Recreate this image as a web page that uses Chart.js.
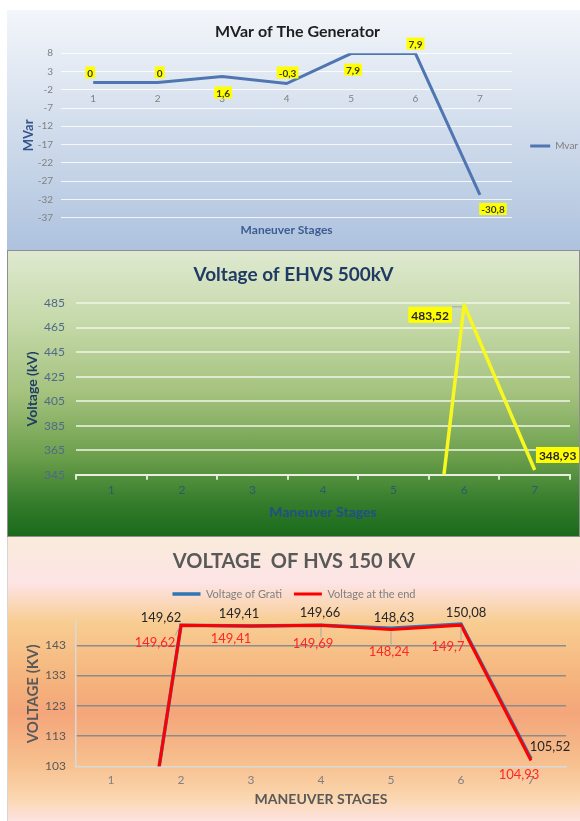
<!DOCTYPE html>
<html>
<head>
<meta charset="utf-8">
<script src="https://cdn.jsdelivr.net/npm/chart.js@4.4.0/dist/chart.umd.min.js"></script>
<style>
html, body { margin: 0; padding: 0; background: #fff; }
body { width: 580px; height: 821px; position: relative; overflow: hidden; }
.panel { position: absolute; left: 7px; width: 573px; box-sizing: border-box; }
#p1 { top: 10px; height: 240px;
  background: linear-gradient(180deg, #f3f6fa 0%, #dbe4f0 35%, #c3d2e6 70%, #aec2de 100%); }
#p2 { top: 250px; height: 287px; border: 1px solid #8f8f8f;
  background: linear-gradient(180deg, #dfe9d0 0%, #c5d9a9 25%, #a4c27d 50%, #6c9f4c 72%, #357d2c 88%, #1a6a1c 100%); }
#p3 { top: 537px; height: 284px; border-left: 1px solid #d6d6d6;
  background: linear-gradient(180deg, #f9ebda 0%, #fde4e6 16%, #f8cd92 30%, #f5b47d 50%, #f4a67a 62%, #f7c08f 80%, #fbd7b0 92%, #fde3e1 100%); }
canvas { position: absolute; left: 0; top: 0; }
</style>
</head>
<body>
<div class="panel" id="p1"><canvas id="c1" width="573" height="240"></canvas></div>
<div class="panel" id="p2"><canvas id="c2" width="571" height="285"></canvas></div>
<div class="panel" id="p3"><canvas id="c3" width="572" height="284"></canvas></div>
<script>
// data
const stages = ['1', '2', '3', '4', '5', '6', '7'];

const mvarValues = [0, 0, 1.6, -0.3, 7.9, 7.9, -30.8];
const mvarTicks = [8, 3, -2, -7, -12, -17, -22, -27, -32, -37];

const ehvsValues = [0, 0, 0, 0, 0, 483.52, 348.93];
const ehvsTicks = [485, 465, 445, 425, 405, 385, 365, 345];

const gratiValues = [0, 149.62, 149.41, 149.66, 148.63, 150.08, 105.52];
const endValues = [0, 149.62, 149.41, 149.69, 148.24, 149.7, 104.93];
const hvsTicks = [143, 133, 123, 113, 103];
const hvsAxisMax = 151;

// where each value label sits relative to its point (px), null = no label
const mvarLabelOffsets = [[-3, -10], [2, -10], [1, 16], [1, -11], [2, 16], [0, -10], [13, 14]];
const ehvsLabelOffsets = [null, null, null, null, null, [-34, 10], [23, -15]];
const gratiLabelOffsets = [null, [-20, -9], [-12, -13], [-1, -13], [3, -12], [5, -12], [19, -13]];
const endLabelOffsets = [null, [-26, 16], [-20, 12], [-8, 18], [-2, 21], [-13, 21], [-12, 13]];
// which moved labels keep a leader line to their point
const ehvsLeaders = [false, false, false, false, false, true, false];
const endLeaders = [false, true, false, true, true, true, false];

Chart.defaults.font.family = 'Lato, "Open Sans", sans-serif';

const tickSetter = list => scale => {
    scale.ticks = list.map(v => ({ value: v }));
};

// blank axis used only as a margin so titles stay centred on the canvas
const spacerAxis = (position, size) => ({
    type: 'linear', position, display: true,
    grid: { display: false, drawTicks: false }, border: { display: false }, ticks: { display: false },
    afterFit: s => { s.width = size; }
});

// value labels (Excel style, comma decimal)
const pointLabels = {
    id: 'pointLabels',
    afterDatasetsDraw(chart) {
        const ctx = chart.ctx;
        chart.data.datasets.forEach((ds, di) => {
            const lab = ds.valueLabels;
            if (!lab) return;
            const meta = chart.getDatasetMeta(di);
            meta.data.forEach((pt, i) => {
                const off = lab.offsets[i];
                if (!off) return;
                const text = String(ds.data[i]).replace('.', ',');
                const x = pt.x + off[0];
                const y = pt.y + off[1];
                ctx.save();
                ctx.font = lab.font;
                const w = ctx.measureText(text).width + (lab.pad || 0) * 2;
                const h = lab.boxH || 12;
                if (lab.leaders && lab.leaders[i]) {
                    const ex = Math.max(x - w / 2, Math.min(pt.x, x + w / 2));
                    const ey = Math.max(y - h / 2, Math.min(pt.y, y + h / 2));
                    ctx.strokeStyle = '#a6a6a6';
                    ctx.lineWidth = 1;
                    ctx.beginPath();
                    ctx.moveTo(ex, ey);
                    ctx.lineTo(pt.x - Math.sign(pt.x - ex) * 2, pt.y - Math.sign(pt.y - ey) * 2);
                    ctx.stroke();
                }
                ctx.textAlign = 'center';
                ctx.textBaseline = 'middle';
                if (lab.box) {
                    ctx.fillStyle = lab.box;
                    ctx.fillRect(x - w / 2, y - h / 2, w, h);
                }
                ctx.fillStyle = lab.color;
                ctx.fillText(text, x, y + 1);
                ctx.restore();
            });
        });
    }
};

// ---- MVar of The Generator
new Chart(document.getElementById('c1'), {
    type: 'line',
    data: {
        labels: stages,
        datasets: [{
            label: 'Mvar',
            data: mvarValues,
            borderColor: '#4f76b1',
            backgroundColor: '#4f76b1',
            borderWidth: 3,
            pointRadius: 0,
            tension: 0,
            valueLabels: { offsets: mvarLabelOffsets, font: 'bold 10px Lato', color: '#3a3a2a', box: '#ffff00', pad: 2, boxH: 12 }
        }]
    },
    options: {
        responsive: false,
        animation: false,
        layout: { padding: { left: 0, right: -8, top: 0, bottom: 0 } },
        plugins: {
            title: { display: true, text: 'MVar of The Generator', color: '#1e1e1e', font: { size: 16, weight: 'bold' }, padding: { top: 12, bottom: 12 } },
            legend: {
                position: 'right',
                title: { display: true, text: ' ', font: { size: 10 }, padding: { top: 10, bottom: 10 } },
                labels: { usePointStyle: true, pointStyle: 'line', pointStyleWidth: 20, color: '#7f7f7f', font: { size: 10 }, padding: 18 }
            },
            tooltip: { enabled: false }
        },
        scales: {
            x: {
                position: { y: 0 }, offset: true,
                grid: { display: false, drawTicks: false }, border: { display: false },
                ticks: { color: '#808080', font: { size: 10 }, padding: 10 }
            },
            x2: {
                type: 'category', labels: stages, position: 'bottom', offset: true,
                grid: { display: false, drawTicks: false }, border: { display: false }, ticks: { display: false },
                title: { display: true, text: 'Maneuver Stages', color: '#3b5c92', font: { size: 12, weight: 'bold' }, padding: { top: 5, bottom: 13 } }
            },
            y: {
                min: -37, max: 8,
                afterBuildTicks: tickSetter(mvarTicks),
                afterFit: s => { s.width = 54; },
                grid: { color: 'rgba(255,255,255,0.8)', drawTicks: false },
                border: { display: false },
                ticks: { color: '#808080', font: { size: 10 }, padding: 8 },
                title: { display: true, text: 'MVar', color: '#34558b', font: { size: 13, weight: 'bold' }, padding: { top: 14, bottom: 0 } }
            }
        }
    },
    plugins: [pointLabels]
});

// ---- Voltage of EHVS 500kV
new Chart(document.getElementById('c2'), {
    type: 'line',
    data: {
        labels: stages,
        datasets: [{
            label: 'EHVS 500kV',
            data: ehvsValues,
            borderColor: '#f7f722',
            borderWidth: 3.5,
            pointRadius: 0,
            tension: 0,
            valueLabels: { offsets: ehvsLabelOffsets, leaders: ehvsLeaders, font: 'bold 12px Lato', color: '#262626', box: '#ffff00', pad: 3, boxH: 16 }
        }]
    },
    options: {
        responsive: false,
        animation: false,
        plugins: {
            title: { display: true, text: 'Voltage of EHVS 500kV', color: '#1f3a63', font: { size: 19, weight: 'bold' }, padding: { top: 12.6, bottom: 16.6 } },
            legend: { display: false },
            tooltip: { enabled: false }
        },
        scales: {
            x: {
                offset: true,
                grid: { offset: true, drawOnChartArea: false, tickLength: 5, color: 'rgba(235,242,225,0.9)', lineWidth: 2 },
                border: { color: 'rgba(235,242,225,0.9)', width: 2 },
                ticks: { color: '#2b5c6a', font: { size: 12 }, padding: 3 },
                title: { display: true, text: 'Maneuver Stages', color: '#214f86', font: { size: 14, weight: 'bold' }, padding: { top: 4, bottom: 15 } }
            },
            y: {
                min: 345, max: 485,
                afterBuildTicks: tickSetter(ehvsTicks),
                afterFit: s => { s.width = 68; },
                grid: { color: 'rgba(240,246,232,0.75)', lineWidth: 2, drawTicks: false },
                border: { display: false },
                ticks: { color: '#50698a', font: { size: 12 }, padding: 11 },
                title: { display: true, text: 'Voltage (kV)', color: '#1f3d66', font: { size: 14, weight: 'bold' }, padding: { top: 16, bottom: 0 } }
            },
            yRight: spacerAxis('right', 9)
        }
    },
    plugins: [pointLabels]
});

// ---- VOLTAGE OF HVS 150 KV
new Chart(document.getElementById('c3'), {
    type: 'line',
    data: {
        labels: stages,
        datasets: [{
            label: 'Voltage of Grati',
            data: gratiValues,
            borderColor: '#2e75b6',
            backgroundColor: '#2e75b6',
            borderWidth: 3.5,
            pointRadius: 0,
            tension: 0,
            order: 2,
            valueLabels: { offsets: gratiLabelOffsets, font: '13px Lato', color: '#262626' }
        }, {
            label: 'Voltage at the end',
            data: endValues,
            borderColor: '#ff0000',
            backgroundColor: '#ff0000',
            borderWidth: 3,
            pointRadius: 0,
            tension: 0,
            order: 1,
            valueLabels: { offsets: endLabelOffsets, leaders: endLeaders, font: '13px Lato', color: '#ff2626' }
        }]
    },
    options: {
        responsive: false,
        animation: false,
        plugins: {
            title: { display: true, text: 'VOLTAGE  OF HVS 150 KV', color: '#595959', font: { size: 20, weight: 'bold' }, padding: { top: 13, bottom: 2.5 } },
            legend: {
                labels: {
                    usePointStyle: true, pointStyle: 'line', pointStyleWidth: 28, color: '#7f7f7f', font: { size: 11 }, padding: 12,
                    sort: (a, b) => a.datasetIndex - b.datasetIndex
                }
            },
            tooltip: { enabled: false }
        },
        scales: {
            x: {
                offset: true,
                grid: { display: false, drawTicks: false },
                border: { color: '#d9d9d9', width: 1.5 },
                ticks: { color: '#808080', font: { size: 12 }, padding: 7 },
                title: { display: true, text: 'MANEUVER STAGES', color: '#595959', font: { size: 14, weight: 'bold' }, padding: { top: -3.5, bottom: 13 } }
            },
            // empty top axis: only keeps the gap between legend and plot
            xSpacer: {
                type: 'category', labels: stages, position: 'top', display: true,
                grid: { display: false, drawTicks: false }, border: { display: false }, ticks: { display: false },
                title: { display: true, text: '', font: { size: 1 }, padding: { top: 10.5, bottom: 0 } }
            },
            y: {
                min: 103, max: hvsAxisMax,
                afterBuildTicks: tickSetter(hvsTicks),
                afterFit: s => { s.width = 68; },
                grid: { color: ctx => ctx.tick && ctx.tick.value === 103 ? 'rgba(0,0,0,0)' : '#8c8c8c', lineWidth: 1.5, drawTicks: false },
                border: { color: '#d9d9d9', width: 1.5 },
                ticks: { color: '#595959', font: { size: 12 }, padding: 10 },
                title: { display: true, text: 'VOLTAGE (KV)', color: '#595959', font: { size: 15, weight: 'bold' }, padding: { top: 16, bottom: 0 } }
            },
            yRight: spacerAxis('right', 14)
        }
    },
    plugins: [pointLabels]
});
</script>
</body>
</html>
